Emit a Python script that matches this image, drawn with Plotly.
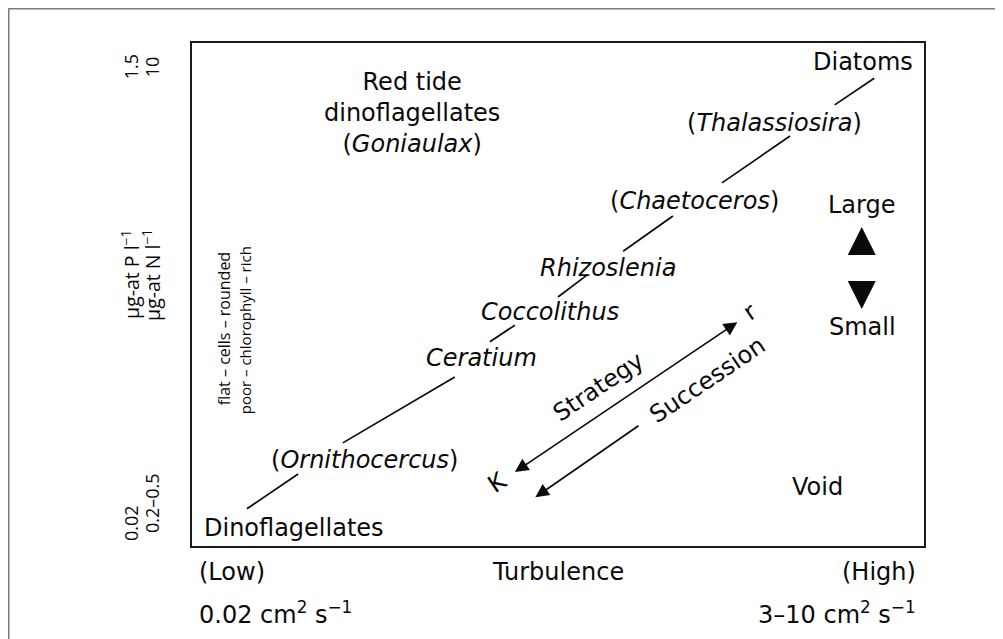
import plotly.graph_objects as go

# ---- data (diagram coordinates: x = turbulence 0..1, y = nutrients 0..1) ----
taxa = ["Diatoms", "(<i>Thalassiosira</i>)", "(<i>Chaetoceros</i>)", "<i>Rhizoslenia</i>",
        "<i>Coccolithus</i>", "<i>Ceratium</i>", "(<i>Ornithocercus</i>)", "Dinoflagellates"]
taxa_x = [0.917, 0.796, 0.687, 0.568, 0.489, 0.396, 0.235, 0.139]
taxa_y = [0.962, 0.841, 0.686, 0.553, 0.465, 0.374, 0.171, 0.036]

# connector segments between successive taxa (start / end)
seg_x0 = [0.075, 0.206, 0.407, 0.500, 0.589, 0.724, 0.878]
seg_y0 = [0.074, 0.205, 0.406, 0.495, 0.586, 0.722, 0.877]
seg_x1 = [0.145, 0.359, 0.441, 0.540, 0.657, 0.817, 0.932]
seg_y1 = [0.143, 0.336, 0.439, 0.539, 0.656, 0.815, 0.930]

red_tide_lines = ["Red tide", "dinoflagellates", "(<i>Goniaulax</i>)"]
red_tide_x = 0.301
red_tide_y = 0.861

size_labels = ["Large", "Small"]
size_x = [0.915, 0.916]
size_y = [0.678, 0.435]
size_arrow_symbols = ["arrow-up", "arrow-down"]
size_arrow_y = [0.634, 0.471]   # arrow tips

strategy_start = (0.439, 0.145)
strategy_end = (0.745, 0.445)
succession_start = (0.612, 0.241)
succession_end = (0.469, 0.097)

rot_labels = ["Strategy", "Succession", "r", "K"]
rot_x = [0.555, 0.704, 0.762, 0.418]
rot_y = [0.316, 0.330, 0.465, 0.127]

void_label = ("Void", 0.855, 0.117)

# rotated side texts (one entry per line)
side_texts = ["1.5", "10", "µg-at P l<sup>−1</sup>", "µg-at N l<sup>−1</sup>",
              "0.02", "0.2–0.5", "flat – cells – rounded", "poor – chlorophyll – rich"]
side_x = [-0.0833, -0.0546, -0.0833, -0.0546, -0.0833, -0.0546, 0.0437, 0.0724]
side_y = [0.952, 0.952, 0.539, 0.539, 0.0457, 0.0855, 0.433, 0.429]
side_size = [18, 18, 19.5, 19.5, 18, 18, 16, 15]

x_low, x_title, x_high = "(Low)", "Turbulence", "(High)"
x_low_val, x_high_val = "0.02 cm<sup>2</sup> s<sup>−1</sup>", "3–10 cm<sup>2</sup> s<sup>−1</sup>"

FONT = "DejaVu Sans"
RFONT = "Open Sans"
INK = "#0a0a0a"
FS = 24

fig = go.Figure()

# connector lines
lx, ly = [], []
for a, b, c, d in zip(seg_x0, seg_y0, seg_x1, seg_y1):
    lx += [a, c, None]
    ly += [b, d, None]
fig.add_trace(go.Scatter(x=lx, y=ly, mode="lines", line=dict(color=INK, width=1.7),
                         hoverinfo="skip", showlegend=False))

# size arrows
fig.add_trace(go.Scatter(x=[size_x[0], size_x[0]], y=size_arrow_y, mode="markers",
                         marker=dict(symbol=size_arrow_symbols, size=28, color=INK,
                                     line=dict(width=0)),
                         hoverinfo="skip", showlegend=False))

def txt(x, y, t, ref="x", size=FS, angle=0, xa="center", ya="middle", fam=FONT):
    return dict(x=x, y=y, text=t, showarrow=False,
                xref=ref if ref == "paper" else "x", yref=ref if ref == "paper" else "y",
                xanchor=xa, yanchor=ya, textangle=angle,
                font=dict(family=fam, size=size, color=INK))

ann = []
for t, x, y in zip(taxa, taxa_x, taxa_y):
    ann.append(txt(x, y, t))
ann.append(txt(red_tide_x, red_tide_y, "<br>".join(red_tide_lines)))
for t, x, y in zip(size_labels, size_x, size_y):
    ann.append(txt(x, y, t))
for t, x, y in zip(rot_labels, rot_x, rot_y):
    ann.append(txt(x, y, t, angle=-34))
ann.append(txt(void_label[1], void_label[2], void_label[0]))

# arrows
ann.append(dict(x=strategy_end[0], y=strategy_end[1], ax=strategy_start[0], ay=strategy_start[1],
                xref="x", yref="y", axref="x", ayref="y", text="", showarrow=True,
                arrowhead=2, arrowside="end+start", arrowsize=1.6, arrowwidth=1.7, arrowcolor=INK))
ann.append(dict(x=succession_end[0], y=succession_end[1], ax=succession_start[0], ay=succession_start[1],
                xref="x", yref="y", axref="x", ayref="y", text="", showarrow=True,
                arrowhead=2, arrowsize=1.6, arrowwidth=1.7, arrowcolor=INK))

# rotated side texts
for t, x, y, s in zip(side_texts, side_x, side_y, side_size):
    ann.append(txt(x, y, t, ref="paper", size=s, angle=-90, fam=RFONT))

# bottom texts
ann.append(txt(0.007, -0.0517, x_low, ref="paper", xa="left"))
ann.append(txt(0.5, -0.0517, x_title, ref="paper"))
ann.append(txt(0.992, -0.0517, x_high, ref="paper", xa="right"))
ann.append(txt(0.007, -0.133, x_low_val, ref="paper", xa="left"))
ann.append(txt(0.992, -0.133, x_high_val, ref="paper", xa="right"))

shapes = [
    dict(type="line", xref="paper", yref="paper", x0=-0.2507, x1=-0.2507, y0=1.0686, y1=-0.2,
         line=dict(color="#7a7a7a", width=2)),
    dict(type="line", xref="paper", yref="paper", x0=-0.2507, x1=1.2, y0=1.0686, y1=1.0686,
         line=dict(color="#7a7a7a", width=2)),
]

ax_common = dict(range=[0, 1], showgrid=False, zeroline=False, showticklabels=False, ticks="",
                 showline=True, mirror=True, linecolor="#1a1a1a", linewidth=2, fixedrange=True)
fig.update_layout(
    width=995, height=631,
    margin=dict(l=184, r=79, t=35, b=93),
    paper_bgcolor="white", plot_bgcolor="white",
    xaxis=ax_common, yaxis=ax_common,
    annotations=ann, shapes=shapes, hovermode=False, showlegend=False,
)
fig.write_html("out.html", config={"displayModeBar": False})
